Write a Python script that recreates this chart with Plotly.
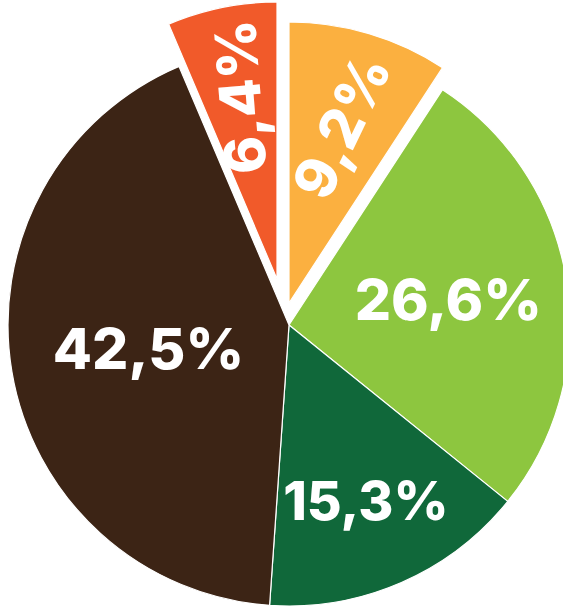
import math
import plotly.graph_objects as go

# Share of each category, clockwise from 12 o'clock
categories = ["Laranja", "Verde claro", "Verde escuro", "Marrom", "Vermelho"]
values = [9.2, 26.6, 15.3, 42.5, 6.4]
colors = ["#FBB040", "#8DC63F", "#10683A", "#3C2415", "#F15A2A"]
labels_text = [f"{v:.1f}".replace(".", ",") + "%" for v in values]

# slices drawn detached from the main disc:
# pixel offset, radius, label distance (share of radius) and label tilt
detached = {
    0: dict(dx=0, dy=-22, r=281, rho=0.655, tilt=9),
    4: dict(dx=-12, dy=-46, r=277, rho=0.67, tilt=7),
}

W, H = 572, 611
CX, CY, R = 289, 325, 281
CLEAR = "rgba(0,0,0,0)"
FONT = dict(family="Inter", size=57, color="white", weight=800)


def domain_for(cx, cy, r):
    return dict(x=[(cx - r) / W, (cx + r) / W],
                y=[1 - (cy + r) / H, 1 - (cy - r) / H])


total = sum(values)
start = [sum(values[:i]) / total * 360 for i in range(len(values))]
mid = [s + v / total * 180 for s, v in zip(start, values)]

fig = go.Figure()

# main disc with the attached slices
main_colors = [CLEAR if i in detached else c for i, c in enumerate(colors)]
main_text = ["" if i in detached else t for i, t in enumerate(labels_text)]
main_lw = [0 if i in detached else 1.2 for i in range(len(values))]
fig.add_trace(go.Pie(
    labels=categories, values=values, sort=False, direction="clockwise",
    rotation=0, domain=domain_for(CX, CY, R),
    marker=dict(colors=main_colors, line=dict(color="white", width=main_lw)),
    text=main_text, textinfo="text", textposition="inside",
    insidetextorientation="horizontal", insidetextfont=FONT,
    hoverinfo="skip", showlegend=False,
))

# each detached slice as its own pie, shifted outwards, label set along the radius
annotations = []
for idx, d in detached.items():
    cx, cy, r = CX + d["dx"], CY + d["dy"], d["r"]
    cols = [c if i == idx else CLEAR for i, c in enumerate(colors)]
    lw = [1.2 if i == idx else 0 for i in range(len(values))]
    fig.add_trace(go.Pie(
        labels=categories, values=values, sort=False, direction="clockwise",
        rotation=0, domain=domain_for(cx, cy, r),
        marker=dict(colors=cols, line=dict(color="white", width=lw)),
        textinfo="none", hoverinfo="skip", showlegend=False,
    ))
    a = math.radians(mid[idx])
    lx = cx + d["rho"] * r * math.sin(a)
    ly = cy - d["rho"] * r * math.cos(a)
    radial = mid[idx] - 90 if mid[idx] <= 180 else mid[idx] - 450
    annotations.append(dict(
        text=labels_text[idx], x=lx / W, y=1 - ly / H,
        xref="paper", yref="paper", xanchor="center", yanchor="middle",
        textangle=radial + d["tilt"], showarrow=False, font=FONT,
    ))

fig.update_layout(
    width=W, height=H,
    margin=dict(l=0, r=0, t=0, b=0),
    paper_bgcolor="white", plot_bgcolor="white",
    showlegend=False, annotations=annotations,
)

fig.write_html("out.html")
